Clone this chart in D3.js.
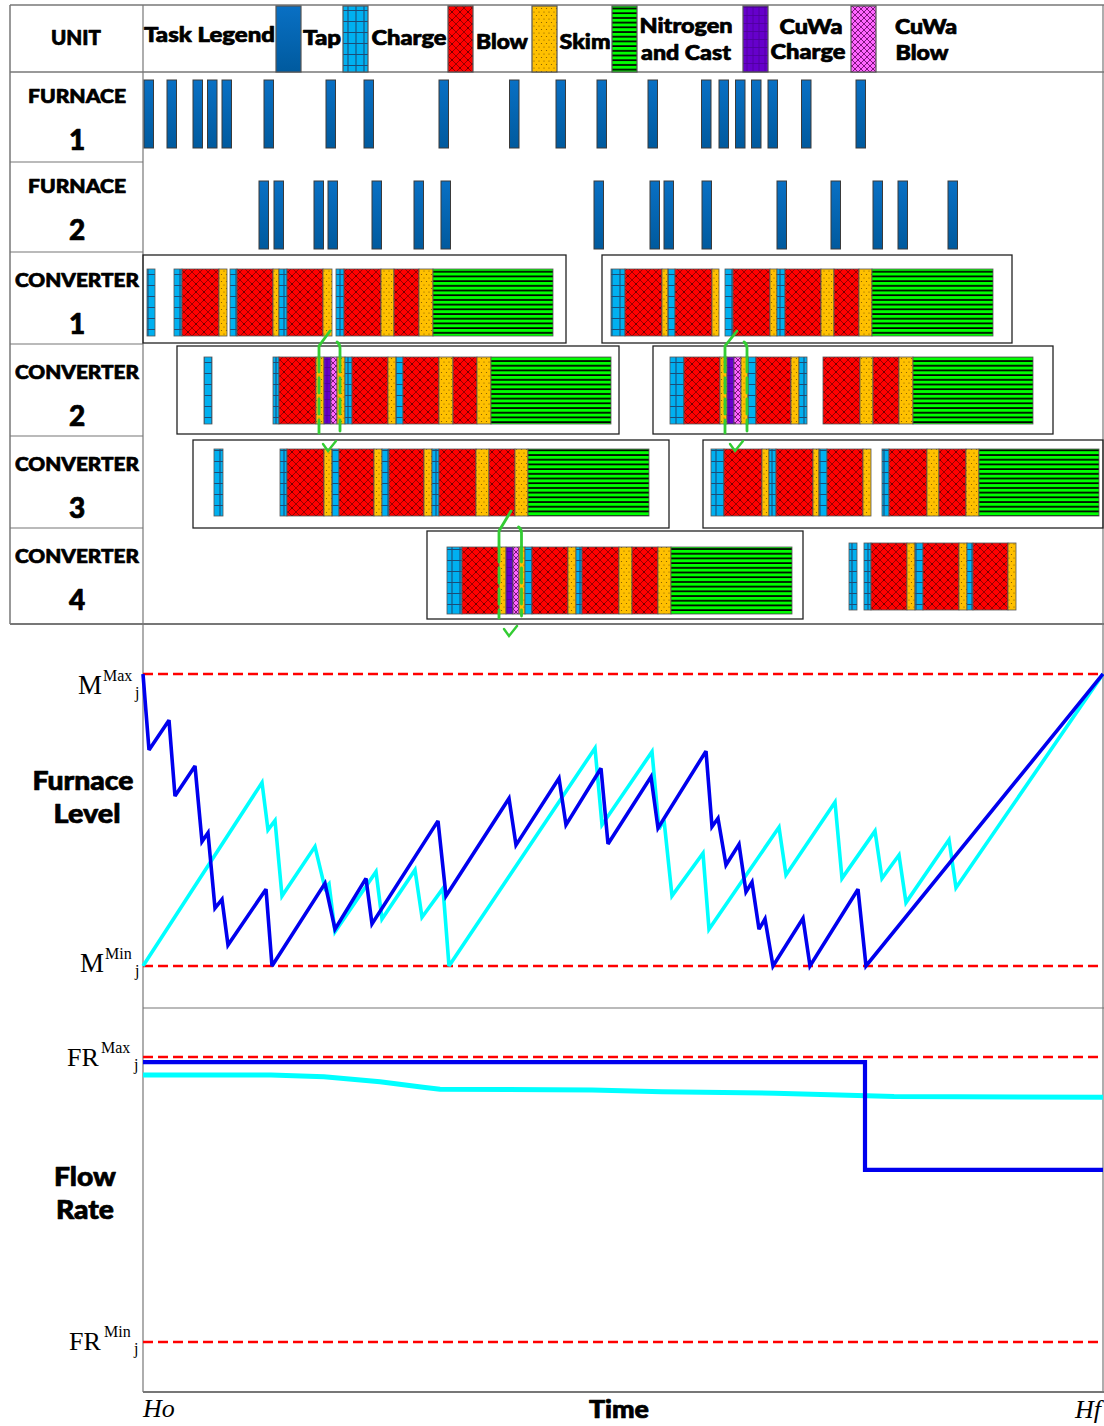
<!DOCTYPE html>
<html><head><meta charset="utf-8">
<script src="https://cdn.jsdelivr.net/npm/d3@7"></script>
<style>body{margin:0;background:#fff} svg{display:block}</style>
</head><body><svg id="c" width="1104" height="1426"></svg>
<script>
// ---------------- DATA ----------------
const units = ["Furnace 1","Furnace 2","Converter 1","Converter 2","Converter 3","Converter 4"];
const unitNames = ["FURNACE","FURNACE","CONVERTER","CONVERTER","CONVERTER","CONVERTER"];
const unitNumbers = ["1","2","1","2","3","4"];
const legendTypes = ["tap","charge","blow","skim","nc","cuwaCharge","cuwaBlow"];
const legendLabels = [["Tap"],["Charge"],["Blow"],["Skim"],["Nitrogen","and Cast"],["CuWa","Charge"],["CuWa","Blow"]];
const legendTitle = "Task Legend";
const headerLabel = "UNIT";

const tapDuration = 9.5;
const furnace1Taps = [1,24,50,64.5,79,121,183,221,296,366.5,413,454,505,558.5,576,592.5,608.5,625,658.5,713];
const furnace2Taps = [116,131,171,185,229,271,298,451,507,521,559,634,688,730,755,805];

const converter1Tasks = [["charge",4,12],["charge",31,39],["blow",39,76],["skim",76,84],["charge",87,94],["blow",94,130],["skim",130,136],["charge",136,144],["blow",144,180],["skim",180,189],["charge",193,201],["blow",201,238],["skim",238,251],["blow",251,276],["skim",276,290],["nc",290,410],
  ["charge",468,482],["blow",482,519],["skim",519,525],["charge",525,532],["blow",532,569],["skim",569,576],["charge",582,590],["blow",590,627],["skim",627,634],["charge",634,642],["blow",642,678],["skim",678,691],["blow",691,716],["skim",716,729],["nc",729,850]];
const converter2Tasks = [["charge",61,69],["charge",130,136],["blow",136,173],["skim",173,181],["cuwaCharge",181,188],["cuwaBlow",188,194],["skim",194,202],["charge",202,209],["blow",209,245],["skim",245,253],["charge",253,260],["blow",260,296],["skim",296,310],["blow",310,334],["skim",334,348],["nc",348,468],
  ["charge",527,541],["blow",541,577],["skim",577,584],["cuwaCharge",584,591],["cuwaBlow",591,598],["skim",598,605],["charge",605,613],["blow",613,648],["skim",648,656],["charge",656,664],["blow",680,717],["skim",717,730],["blow",730,756],["skim",756,770],["nc",770,890]];
const converter3Tasks = [["charge",71,80],["charge",137,144],["blow",144,181],["skim",181,189],["charge",189,196],["blow",196,231],["skim",231,239],["charge",239,246],["blow",246,281],["skim",281,289],["charge",289,296],["blow",296,333],["skim",333,346],["blow",346,372],["skim",372,385],["nc",385,506],
  ["charge",568,581],["blow",581,619],["skim",619,626],["charge",626,633],["blow",633,670],["skim",670,676],["charge",676,684],["blow",684,720],["skim",720,728],["charge",739,746],["blow",746,784],["skim",784,796],["blow",796,823],["skim",823,836],["nc",836,956]];
const converter4Tasks = [["charge",304,319],["blow",319,356],["skim",356,363],["cuwaCharge",363,370],["cuwaBlow",370,376],["skim",376,382],["charge",382,389],["blow",389,425],["skim",425,433],["charge",433,439],["blow",439,476],["skim",476,489],["blow",489,515],["skim",515,528],["nc",528,649],
  ["charge",706,714],["charge",721,728],["blow",728,764],["skim",764,772],["charge",772,780],["blow",780,816],["skim",816,824],["charge",824,830],["blow",830,865],["skim",865,873]];
const converterCampaigns = [["Converter 1",0,423],["Converter 1",459,869],["Converter 2",34,476],["Converter 2",510,910],["Converter 3",50,526],["Converter 3",560,960],["Converter 4",284,660]];
const connectors = [["Converter 1","Converter 2",176,187,197],["Converter 1","Converter 2",582,594,604],["Converter 3","Converter 4",356,368,378.5]];

const furnace1Level = [[0,100],[6,74],[26,84.2],[32,58.2],[52,68.5],[59,42.6],[65,45.6],[72,19.8],[79,22.8],[85,7.2],[123,26.3],[129,0],[182,28.3],[192,12.6],[223,30],[229,14.4],[295,49.7],[303,24],[366,57.4],[373,41.4],[416,64.3],[423,48.3],[458,67.7],[465,41.8],[508,64.8],[515,47.2],[563,73.6],[569,47.7],[575,50.6],[583,34.6],[596,41.7],[603,25.4],[609,28.7],[616,12.6],[622,16.1],[630,0],[660,16.3],[667,0],[715,26.3],[723,0],[960,100]];
const furnace2Level = [[0,0],[119,62.8],[125,46.6],[132,49.8],[139,24],[172,40.9],[182,26.6],[186,28.1],[192,11.7],[233,32.3],[239,16.1],[272,32.9],[279,16.7],[300,26.6],[306,0],[452,74.6],[459,48.3],[509,73.4],[516,46.9],[521,50],[529,24],[560,38.6],[566,12.6],[636,47.5],[643,31.2],[692,56.1],[699,30],[732,46.2],[739,30],[756,38],[763,21.7],[806,43.2],[813,26.8],[960,100]];
const furnace1Flow = [[0,98.2],[722,98.2],[722,60.4],[960,60.4]];
const furnace2Flow = [[0,93.7],[128,93.7],[181,93.1],[237,91.3],[280,89.4],[297,88.7],[449,88.4],[519,87.8],[632,87.3],[751,86.1],[960,85.9]];
const levelLimits = [0,100];
const flowLimits = [0,100];
const timeLabels = ["Ho","Time","Hf"];

// ---------------- LAYOUT ----------------
const svg = d3.select("#c");
const SANS = "Lato, 'DejaVu Sans', sans-serif";
const SERIF = "'Liberation Serif', 'Times New Roman', serif";
const x = d3.scaleLinear().domain([0,960]).range([143,1103]);
const rowTop = d3.scaleOrdinal().domain(units).range([72,162,252,344,436,528]);
const barTop = d3.scaleOrdinal().domain(units).range([80,181,269,357,449,547]);
const boxTop = d3.scaleOrdinal().domain(units).range([0,0,255,346,440,531]);
const barH = 67, boxH = 88;
const yLevel = d3.scaleLinear().domain(levelLimits).range([966,674]);
const yFlow = d3.scaleLinear().domain(flowLimits).range([1342,1057]);
const colors = {tap:"url(#gTap)",charge:"url(#pCharge)",blow:"url(#pBlow)",skim:"url(#pSkim)",nc:"url(#pNc)",cuwaCharge:"url(#pCuC)",cuwaBlow:"url(#pCuB)"};

// ---------------- DEFS ----------------
const defs = svg.append("defs");
const gt = defs.append("linearGradient").attr("id","gTap").attr("x1",0).attr("y1",0).attr("x2",0).attr("y2",1);
gt.append("stop").attr("offset","0%").attr("stop-color","#0970c4");
gt.append("stop").attr("offset","100%").attr("stop-color","#005a9e");
function pat(id,w,h,bg,fn){
  const p = defs.append("pattern").attr("id",id).attr("patternUnits","userSpaceOnUse").attr("width",w).attr("height",h);
  p.append("rect").attr("width",w).attr("height",h).attr("fill",bg);
  fn(p);
}
pat("pCharge",8,11,"#00b0f0",p=>p.append("path").attr("d","M4,0V11M0,10.5H8").attr("stroke","#1b4d78").attr("stroke-width",1.1).attr("fill","none"));
pat("pBlow",8,8,"#ff0000",p=>{p.append("path").attr("d","M0,0L8,8M8,0L0,8").attr("stroke","#6a0000").attr("stroke-width",0.7).attr("fill","none");
  p.append("circle").attr("cx",4).attr("cy",4).attr("r",0.7).attr("fill","#300");});
pat("pSkim",5,7,"#ffc000",p=>{p.append("circle").attr("cx",1.5).attr("cy",1.5).attr("r",0.6).attr("fill","#7a5400");
  p.append("circle").attr("cx",4).attr("cy",5).attr("r",0.6).attr("fill","#7a5400");});
pat("pNc",10,4.7,"#00ff00",p=>p.append("rect").attr("y",3).attr("width",10).attr("height",1.7).attr("fill","#000"));
pat("pCuC",6,8,"#6600cc",p=>p.append("path").attr("d","M3,0V8M0,7.5H6").attr("stroke","#4c0099").attr("stroke-width",0.8).attr("fill","none"));
pat("pCuB",6,6,"#ff66ff",p=>p.append("path").attr("d","M0,0L6,6M6,0L0,6").attr("stroke","#5a005a").attr("stroke-width",0.8).attr("fill","none"));

// ---------------- GRID ----------------
const grid = svg.append("g").attr("stroke","#777").attr("fill","none");
grid.append("line").attr("x1",10).attr("x2",1104).attr("y1",5).attr("y2",5).attr("stroke-width",1.5);
grid.append("line").attr("x1",10).attr("x2",1104).attr("y1",72).attr("y2",72).attr("stroke-width",1.5);
grid.append("line").attr("x1",10).attr("x2",10).attr("y1",5).attr("y2",624).attr("stroke-width",1.5);
grid.append("line").attr("x1",143).attr("x2",143).attr("y1",5).attr("y2",1392).attr("stroke-width",1.2);
grid.append("line").attr("x1",1103).attr("x2",1103).attr("y1",5).attr("y2",1392).attr("stroke-width",1.2);
units.slice(1).forEach(u=>grid.append("line").attr("x1",10).attr("x2",143).attr("y1",rowTop(u)).attr("y2",rowTop(u)).attr("stroke-width",1.2));
grid.append("line").attr("x1",10).attr("x2",1104).attr("y1",624).attr("y2",624).attr("stroke-width",2);
grid.append("line").attr("x1",143).attr("x2",1104).attr("y1",1008).attr("y2",1008).attr("stroke-width",1.2);
grid.append("line").attr("x1",143).attr("x2",1104).attr("y1",1392).attr("y2",1392).attr("stroke-width",2);

function label(s,cx,base,size,w,opt={}){
  const t = svg.append("text").attr("x",cx).attr("y",base).attr("font-family",opt.family||SANS)
    .attr("font-weight",opt.weight||900).attr("font-size",size).attr("text-anchor",opt.anchor||"middle")
    .attr("fill","#000").text(s);
  if(!opt.family) t.attr("stroke","#000").attr("stroke-width",0.7).attr("stroke-linejoin","round");
  if(opt.italic) t.attr("font-style","italic");
  if(w) t.attr("textLength",w).attr("lengthAdjust","spacingAndGlyphs");
  return t;
}

// ---------------- HEADER / LEGEND ----------------
label(headerLabel,76,45,21,50);
label(legendTitle,144,42,20,131,{anchor:"start"});
const swX = [276,343,448,532,612,743,851];
const labelPos = [[[322,45,38]],[[409,45,75]],[[502,49,52]],[[585,49,51]],[[686,33,93],[686,60,90]],[[811,34,63],[808,59,75]],[[926,34,62],[922,60,53]]];
legendTypes.forEach((tp,i)=>{
  svg.append("rect").attr("x",swX[i]).attr("y",6).attr("width",25).attr("height",66)
    .attr("fill",colors[tp]).attr("stroke","#555").attr("stroke-width",1.2);
  legendLabels[i].forEach((s,j)=>{ const p = labelPos[i][j]; label(s,p[0],p[1],20,p[2]); });
});

// ---------------- UNIT LABELS ----------------
units.forEach((u,i)=>{
  const top = rowTop(u), isF = i<2;
  label(unitNames[i],77,top+(isF?31:35),19,isF?98:124);
  label(unitNumbers[i],77,top+(isF?78:82),28,null);
});

// ---------------- CAMPAIGN BOXES ----------------
svg.append("g").selectAll("rect").data(converterCampaigns).join("rect")
  .attr("x",d=>x(d[1])).attr("y",d=>boxTop(d[0])).attr("width",d=>x(d[2])-x(d[1])).attr("height",boxH)
  .attr("fill","none").attr("stroke","#222").attr("stroke-width",1.3);

// ---------------- FURNACE TAPS ----------------
[[units[0],furnace1Taps],[units[1],furnace2Taps]].forEach(([u,taps])=>{
  svg.append("g").selectAll("rect").data(taps).join("rect")
    .attr("x",d=>x(d)).attr("y",barTop(u)).attr("width",x(tapDuration)-x(0)).attr("height",barH+1)
    .attr("fill",colors.tap).attr("stroke","#3a3a3a").attr("stroke-width",1);
});

// ---------------- CONVERTER TASKS ----------------
[[units[2],converter1Tasks],[units[3],converter2Tasks],[units[4],converter3Tasks],[units[5],converter4Tasks]].forEach(([u,tasks])=>{
  svg.append("g").selectAll("rect").data(tasks).join("rect")
    .attr("x",d=>x(d[1])).attr("y",d=>barTop(u)-(u==="Converter 4"&&d[1]>690?4:0)).attr("width",d=>x(d[2])-x(d[1])).attr("height",barH)
    .attr("fill",d=>colors[d[0]]).attr("stroke","#555").attr("stroke-width",0.8);
});

// ---------------- CONNECTORS ----------------
const cg = svg.append("g").attr("stroke","#33cc33").attr("stroke-width",2.8).attr("fill","none").attr("stroke-linecap","round");
connectors.forEach(([from,to,l,top,r])=>{
  const ys = barTop(from)+barH-5, yb = boxTop(to), bt = barTop(to), bb = barTop(to)+barH, ye = boxTop(to)+boxH-1;
  cg.append("path").attr("d",`M${x(top)},${ys}L${x(l)},${yb}L${x(l)},${bt}`);
  cg.append("path").attr("d",`M${x(l)},${bt}L${x(l)},${bb}`).attr("stroke-dasharray","15,6");
  cg.append("path").attr("d",`M${x(l)},${bb}L${x(l)},${ye}`);
  cg.append("path").attr("d",`M${x(r)-3},${yb-4}Q${x(r)},${yb-2} ${x(r)},${yb+2}L${x(r)},${bt}`);
  cg.append("path").attr("d",`M${x(r)},${bt}L${x(r)},${bb}`).attr("stroke-dasharray","15,6");
  cg.append("path").attr("d",`M${x(r)},${bb}L${x(r)},${ye-2}`);
  const vx = x(top)-2, vy = ye+18;
  cg.append("path").attr("d",`M${vx-5},${vy-7}L${vx},${vy}L${vx+8},${vy-10}`).attr("stroke-width",2.4);
});

// ---------------- FURNACE LEVEL CHART ----------------
const dash = svg.append("g").attr("stroke","#ff0000").attr("stroke-width",2.7).attr("stroke-dasharray","10,5");
levelLimits.forEach(v=>dash.append("line").attr("x1",x(0)).attr("x2",x(960)).attr("y1",yLevel(v)).attr("y2",yLevel(v)));
flowLimits.forEach(v=>dash.append("line").attr("x1",x(0)).attr("x2",x(960)).attr("y1",yFlow(v)).attr("y2",yFlow(v)).attr("stroke-width",2.7));

const lineL = d3.line().x(d=>x(d[0])).y(d=>yLevel(d[1]));
svg.append("path").attr("d",lineL(furnace2Level)).attr("fill","none").attr("stroke","#00ffff").attr("stroke-width",3.6).attr("stroke-linejoin","miter").attr("stroke-miterlimit",3);
svg.append("path").attr("d",lineL(furnace1Level)).attr("fill","none").attr("stroke","#0000ee").attr("stroke-width",3.6).attr("stroke-linejoin","miter").attr("stroke-miterlimit",3);

const lineF = d3.line().x(d=>x(d[0])).y(d=>yFlow(d[1]));
svg.append("path").attr("d",lineF(furnace2Flow)).attr("fill","none").attr("stroke","#00ffff").attr("stroke-width",5);
svg.append("path").attr("d",lineF(furnace1Flow)).attr("fill","none").attr("stroke","#0000ee").attr("stroke-width",4.2);

// ---------------- AXIS LABELS ----------------
function limLabel(main,sup,xm,base,size,xs,xj){
  label(main,xm,base,size,null,{family:SERIF,weight:400,anchor:"start"});
  label(sup,xs,base-13,16,null,{family:SERIF,weight:400,anchor:"start"});
  label("j",xj,base+4,16,null,{family:SERIF,weight:400,anchor:"start"});
}
limLabel("M","Max",78,694,27,103,135);
limLabel("M","Min",80,972,27,105,135);
limLabel("FR","Max",67,1066,26,101,134);
limLabel("FR","Min",69,1350,26,104,134);
label("Furnace",83,790,26,101);
label("Level",87,823,26,67);
label("Flow",85,1186,26,62);
label("Rate",85,1219,26,58);
label(timeLabels[0],x(0),1417,26,null,{family:SERIF,weight:400,anchor:"start",italic:true});
label(timeLabels[1],619,1418,24,60);
label(timeLabels[2],x(960)-2,1418,26,null,{family:SERIF,weight:400,anchor:"end",italic:true});
</script></body></html>
